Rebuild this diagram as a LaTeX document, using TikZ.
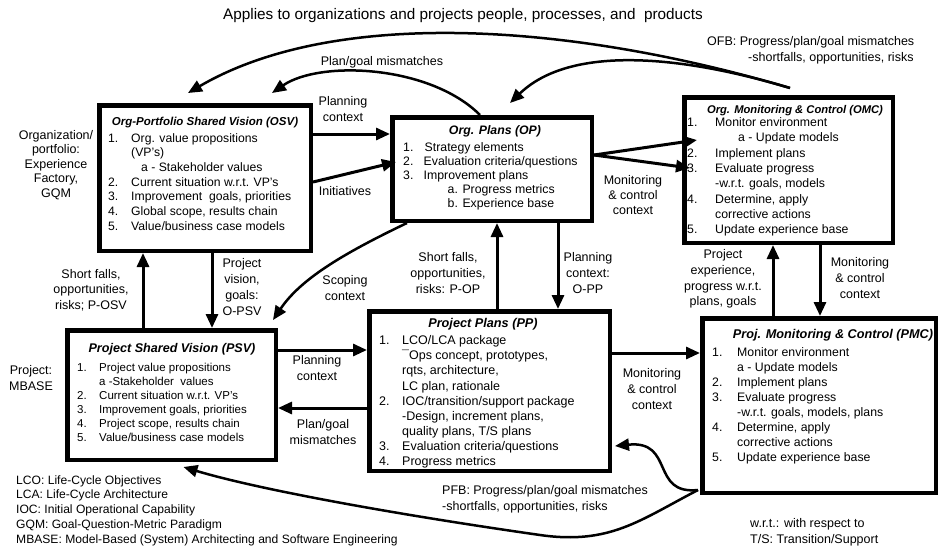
\documentclass[tikz,border=0pt]{standalone}
\usepackage{fontspec}
\setmainfont{Liberation Sans}
\usetikzlibrary{arrows.meta,calc}
\newcommand\fsz[2]{\fontsize{#1}{#2}\selectfont}
\newlength\numw
\newcommand\nbr[1]{\makebox[\numw][l]{#1}}
\tikzset{
 box/.style={draw, line width=4.5pt, inner sep=0pt, outer sep=2.25pt},
 ttl/.style={inner sep=0pt},
 body/.style={anchor=north west, inner sep=0pt, align=left},
 lbl/.style={inner sep=0pt, align=center, font=\fsz{12.5}{15.7}},
 arr/.style={line width=3pt, -{Triangle[length=14pt,width=12pt]}},
 carr/.style={line width=2.5pt, -{Triangle[length=14pt,width=12pt]}},
}
\begin{document}
\begin{tikzpicture}[x=1pt,y=-1pt]
\fill[white] (0,0) rectangle (945,550);
\path[use as bounding box] (0,0) rectangle (945,550);

% boxes
\node[box, minimum width=211.5pt, minimum height=145.5pt] (osv) at (205,178) {};
\node[box, minimum width=199.5pt, minimum height=103.5pt] (op) at (492,169) {};
\node[box, minimum width=208.5pt, minimum height=145.5pt] (omc) at (788.5,170) {};
\node[box, minimum width=208.5pt, minimum height=129.5pt] (psv) at (171.5,395) {};
\node[box, minimum width=240.5pt, minimum height=159.5pt] (pp) at (489.5,391) {};
\node[box, minimum width=233.5pt, minimum height=174.5pt] (pmc) at (819,405.5) {};

% titles
\node[ttl, font=\bfseries\itshape\fsz{11.5}{14}] (osvt) at (205,123) {Org-Portfolio Shared Vision (OSV)};
\node[ttl, font=\bfseries\itshape\fsz{12.3}{14}] (opt) at (495,131) {Org. Plans (OP)};
\node[ttl, font=\bfseries\itshape\fsz{11.2}{14}] (omct) at (795,111) {Org. Monitoring \& Control (OMC)};
\node[ttl, font=\bfseries\itshape\fsz{12.6}{14}] (psvt) at (172,349) {Project Shared Vision (PSV)};
\node[ttl, font=\bfseries\itshape\fsz{12.7}{14}] (ppt) at (483,324) {Project Plans (PP)};
\node[ttl, font=\bfseries\itshape\fsz{12.7}{14}] (pmct) at (833,335) {Proj. Monitoring \& Control (PMC)};

% bodies
\node[body, font=\fsz{12.2}{14.7}\setlength\numw{23pt}] (osvb) at (108,133)
 {\nbr{1.}Org. value propositions\\ \nbr{}(VP's)\\ \nbr{}\hspace*{10pt}a - Stakeholder values\\
  \nbr{2.}Current situation w.r.t. VP's\\ \nbr{3.}Improvement\ \ goals, priorities\\
  \nbr{4.}Global scope, results chain\\ \nbr{5.}Value/business case models};
\node[body, font=\fsz{12.3}{14}\setlength\numw{20.5pt}] (opb) at (403,142.5)
 {\nbr{1.}\hspace*{1pt}Strategy elements\\ \nbr{2.}Evaluation criteria/questions\\ \nbr{3.}Improvement plans\\
  \nbr{}\hspace*{24pt}a. Progress metrics\\ \nbr{}\hspace*{24pt}b. Experience base};
\node[body, font=\fsz{12.3}{15.3}\setlength\numw{28pt}] (omcb) at (687,117.5)
 {\nbr{1.}Monitor environment\\ \nbr{}\hspace*{23pt}a - Update models\\ \nbr{2.}Implement plans\\
  \nbr{3.}Evaluate progress\\ \nbr{}-w.r.t. goals, models\\ \nbr{4.}Determine, apply\\
  \nbr{}corrective actions\\ \nbr{5.}Update experience base};
\node[body, font=\fsz{11.5}{14}\setlength\numw{22pt}] (psvb) at (77,362.8)
 {\nbr{1.}Project value propositions\\ \nbr{}a -Stakeholder\ \ values\\ \nbr{2.}Current situation w.r.t. VP's\\
  \nbr{3.}Improvement goals, priorities\\ \nbr{4.}Project scope, results chain\\ \nbr{5.}Value/business case models};
\node[body, font=\fsz{12.5}{15.1}\setlength\numw{23pt}] (ppb) at (379,335.5)
 {\nbr{1.}LCO/LCA package\\ \nbr{}¯Ops concept, prototypes,\\ \nbr{}rqts, architecture,\\ \nbr{}LC plan, rationale\\
  \nbr{2.}IOC/transition/support package\\ \nbr{}-Design, increment plans,\\ \nbr{}quality plans, T/S plans\\
  \nbr{3.}Evaluation criteria/questions\\ \nbr{4.}Progress metrics};
\node[body, font=\fsz{12.3}{15}\setlength\numw{25pt}] (pmcb) at (712,347.5)
 {\nbr{1.}Monitor environment\\ \nbr{}a - Update models\\ \nbr{2.}Implement plans\\
  \nbr{3.}Evaluate progress\\ \nbr{}-w.r.t. goals, models, plans\\ \nbr{4.}Determine, apply\\
  \nbr{}corrective actions\\ \nbr{5.}Update experience base};

% labels
\node[lbl, font=\fsz{15.3}{18}] (title) at (463,16) {Applies to organizations and projects people, processes, and\ \ products};
\node[lbl] (lpgm1) at (382,62) {Plan/goal mismatches};
\node[lbl, anchor=west, align=left] (lofb) at (707,50.5) {OFB: Progress/plan/goal mismatches\\\hspace*{41pt}-shortfalls, opportunities, risks};
\node[lbl] (lpc1) at (343,109) {Planning\\context};
\node[lbl] (linit) at (345,191) {Initiatives};
\node[lbl, font=\fsz{12.5}{14.5}] (lorg) at (56,165) {Organization/\\portfolio:\\Experience\\Factory,\\GQM};
\node[lbl, font=\fsz{12.5}{15}] (lmc1) at (633,195) {Monitoring\\\& control\\context};
\node[lbl] (lsf1) at (91,290) {Short falls,\\opportunities,\\risks; P-OSV};
\node[lbl] (lpv) at (242,287) {Project\\vision,\\goals:\\O-PSV};
\node[lbl] (lproj) at (31,378) {Project:\\MBASE};
\node[lbl] (lscope) at (345,288) {Scoping\\context};
\node[lbl] (lsf2) at (448,273) {Short falls,\\opportunities,\\risks: P-OP};
\node[lbl] (lpc2) at (588,273) {Planning\\context:\\O-PP};
\node[lbl] (lpc3) at (317,368) {Planning\\context};
\node[lbl] (lpgm2) at (323,432) {Plan/goal\\mismatches};
\node[lbl] (lmc2) at (652,389) {Monitoring\\\& control\\context};
\node[lbl] (lpe) at (723,279) {Project\\experience,\\progress w.r.t.\\plans, goals};
\node[lbl] (lmc3) at (860,278) {Monitoring\\\& control\\context};
\node[lbl, anchor=west, align=left] (lpfb) at (442,499.5) {PFB: Progress/plan/goal mismatches\\-shortfalls, opportunities, risks};
\node[lbl, anchor=west, align=left] (lwrt) at (750,532) {w.r.t.: with respect to\\T/S: Transition/Support};
\node[lbl, anchor=west, align=left, font=\fsz{12.1}{14.8}] (lleg) at (16,510.5) {LCO: Life-Cycle Objectives\\LCA: Life-Cycle Architecture\\IOC: Initial Operational Capability\\GQM: Goal-Question-Metric Paradigm\\MBASE: Model-Based (System) Architecting and Software Engineering};

% connectors
\draw[arr] ([yshift=44pt]osv.east) -- ([yshift=44pt]osv.east -| op.west);
\draw[arr] ([yshift=-4pt]osv.east) -- ([xshift=6pt,yshift=7pt]op.west);
\draw[arr] ([yshift=14pt]op.east) -- ([xshift=15pt,yshift=30pt]omc.west);
\draw[arr] ([yshift=14pt]op.east) -- ([xshift=8pt,yshift=2pt]omc.west);

\coordinate (ofb) at (790,88);
\draw[carr] (ofb) .. controls (560,20) and (330,10) .. ([xshift=-17pt,yshift=10pt]osv.north);
\draw[carr] (ofb) .. controls (680,55) and (570,45) .. ([xshift=18pt,yshift=12pt]op.north);
\draw[carr] ([xshift=-12pt]op.north) .. controls (430,65) and (320,60) .. ([xshift=67pt,yshift=10pt]osv.north);

\draw[arr] ([xshift=-28.5pt]psv.north) -- ([xshift=-28.5pt]psv.north |- osv.south);
\draw[arr] ([xshift=7pt]osv.south) -- ([xshift=7pt]osv.south |- psv.north);
\draw[carr] ([xshift=-85pt]op.south) .. controls (340,255) and (300,280) .. ([xshift=-5pt,yshift=8pt]psv.north east);

\draw[arr] ([xshift=7.5pt]pp.north) -- ([xshift=7.5pt]pp.north |- op.south);
\draw[arr] ([xshift=66pt]op.south) -- ([xshift=66pt]op.south |- pp.north);

\draw[arr] ([yshift=45pt]psv.east) -- ([yshift=45pt]psv.east -| pp.west);
\draw[arr] ([yshift=-17pt]pp.west) -- ([yshift=-17pt]pp.west -| psv.east);
\draw[arr] ([yshift=38pt]pp.east) -- ([yshift=38pt]pp.east -| pmc.west);

\draw[arr] ([xshift=-46pt]pmc.north) -- ([xshift=-46pt]pmc.north |- omc.south);
\draw[arr] ([xshift=31.5pt]omc.south) -- ([xshift=31.5pt]omc.south |- pmc.north);

\coordinate (pfb) at ([xshift=-2pt,yshift=-84.5pt]pmc.west);
\draw[carr] (pfb) .. controls (650,495) and (675,440) .. ([xshift=3pt,yshift=-55pt]pp.east);
\draw[carr] (pfb) .. controls (640,520) and (610,545) .. (540,535) .. controls (400,515) and (260,490) .. ([xshift=12pt,yshift=-5pt]psv.south);
\end{tikzpicture}
\end{document}
